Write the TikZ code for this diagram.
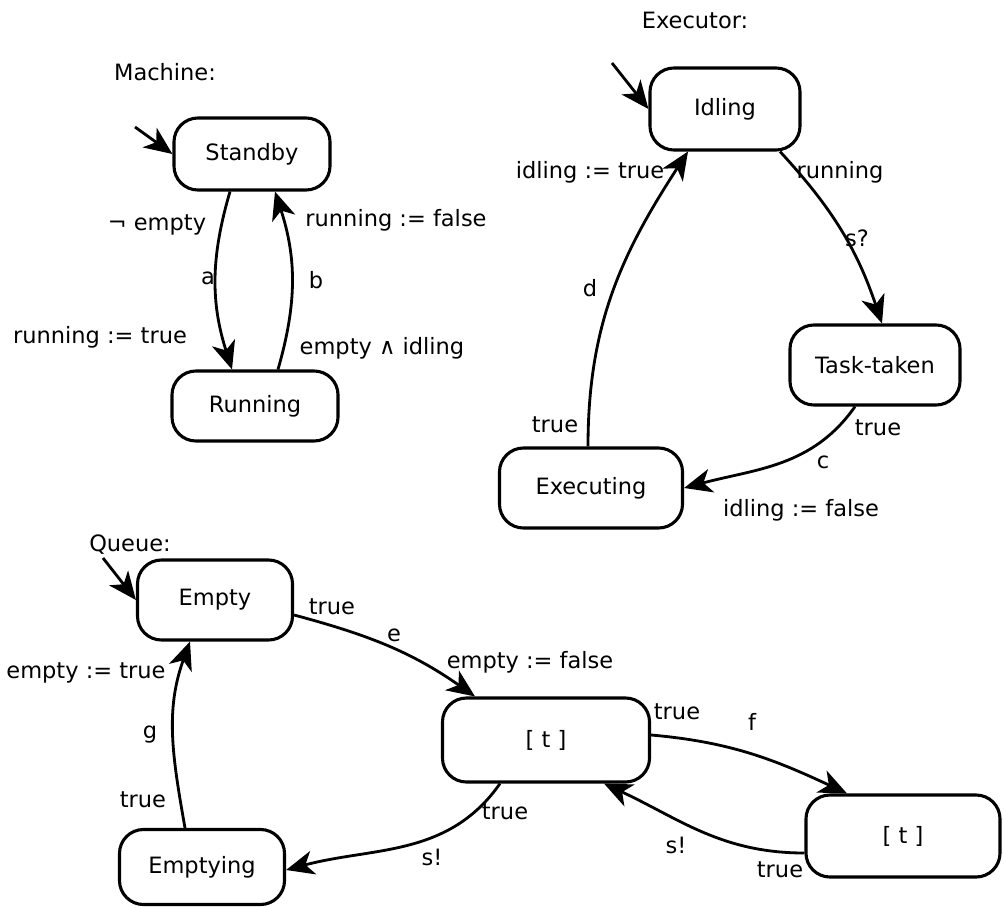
\documentclass[tikz,border=0pt]{standalone}
\usepackage{fontspec}
\setmainfont{DejaVu Sans}
\usetikzlibrary{arrows.meta,positioning,calc}
\tikzset{
  statebox/.style={draw=black,line width=2.2pt,rounded corners=0.6cm,fill=white,
    inner sep=0pt,align=center,font=\fontsize{16pt}{19pt}\selectfont},
  transarrow/.style={-{Stealth[length=7mm,width=6mm,inset=2mm]},
    line width=2pt,draw=black},
  initarrow/.style={transarrow},
  translabel/.style={inner sep=1pt,font=\fontsize{16pt}{19pt}\selectfont},
  titlelabel/.style={inner sep=1pt,font=\fontsize{16pt}{19pt}\selectfont},
}

\begin{document}
\begin{tikzpicture}[x=0.025cm,y=0.025cm]
    \useasboundingbox (0,0) rectangle (1004,-906);
    % Machine
    \node[titlelabel] (machinelbl) at (165,-72) {Machine:};
    \node[statebox,minimum width=3.9cm,minimum height=1.8cm] (standby) at (252,-154) {Standby};
    \node[statebox,minimum width=4.15cm,minimum height=1.75cm] (running) at (255,-406) {Running};
    \coordinate (standbyinit) at (135,-127);
    \draw[initarrow] (standbyinit) -- (standby.west);
    \draw[transarrow] ($(standby.south)+(-22,0)$) to[bend right=17] ($(running.north)+(-23,0)$);
    \draw[transarrow] ($(running.north)+(23,0)$) to[bend right=17] ($(standby.south)+(23,0)$);
    \node[translabel] (negempty) at (157,-225) {¬ empty};
    \node[translabel] (lbla) at (208,-278) {a};
    \node[translabel] (runtrue) at (100,-337) {running := true};
    \node[translabel] (lblb) at (316,-280) {b};
    \node[translabel] (runfalse) at (396,-220) {running := false};
    \node[translabel] (emptyidle) at (382,-348) {empty ∧ idling};
    % Executor
    \node[titlelabel] (executorlbl) at (695,-20) {Executor:};
    \node[statebox,minimum width=3.75cm,minimum height=2.05cm] (idling) at (725,-109) {Idling};
    \node[statebox,minimum width=4.25cm,minimum height=2.0cm] (tasktaken) at (875,-365) {Task-taken};
    \node[statebox,minimum width=4.575cm,minimum height=2.0cm] (executing) at (591,-488) {Executing};
    \coordinate (idlinginit) at (612,-63);
    \draw[initarrow] (idlinginit) -- (idling.west);
    \draw[transarrow] ($(idling.south)+(55,0)$) to[bend left=12] ($(tasktaken.north)+(7,0)$);
    \draw[transarrow] ($(tasktaken.south)+(-20,0)$) to[out=235,in=15] (executing.east);
    \draw[transarrow] ($(executing.north)+(-3,0)$) to[out=90,in=237] ($(idling.south)+(-37,0)$);
    \node[translabel] (idletrue) at (590,-172) {idling := true};
    \node[translabel] (lblrun) at (840,-172) {running};
    \node[translabel] (lbls) at (857,-238) {s?};
    \node[translabel] (lbld) at (590,-288) {d};
    \node[translabel] (exectrue) at (555,-425) {true};
    \node[translabel] (tasktrue) at (878,-428) {true};
    \node[translabel] (lblc) at (823,-462) {c};
    \node[translabel] (idlefalse) at (801,-510) {idling := false};
    % Queue
    \node[titlelabel] (queuelbl) at (130,-545) {Queue:};
    \node[statebox,minimum width=3.875cm,minimum height=2.0cm] (empty) at (215,-600) {Empty};
    \node[statebox,minimum width=5.175cm,minimum height=2.1cm] (tfirst) at (546,-740) {[ t ]};
    \node[statebox,minimum width=4.85cm,minimum height=2.05cm] (tsecond) at (903,-836) {[ t ]};
    \node[statebox,minimum width=4.125cm,minimum height=1.875cm] (emptying) at (202,-867) {Emptying};
    \coordinate (emptyinit) at (103,-558);
    \draw[initarrow] (emptyinit) -- (empty.west);
    \draw[transarrow] ($(empty.east)+(0,-15)$) to[out=-15,in=145] ($(tfirst.north)+(-71,0)$);
    \draw[transarrow] ($(tfirst.east)+(0,5)$) to[out=-5,in=155] ($(tsecond.north)+(-56,0)$);
    \draw[transarrow] ($(tsecond.west)+(0,-17)$) to[out=180,in=-25] ($(tfirst.south)+(58,0)$);
    \draw[transarrow] ($(tfirst.south)+(-46,0)$) to[out=235,in=15] ($(emptying.east)+(0,-3)$);
    \draw[transarrow] ($(emptying.north)+(-17,0)$) to[out=100,in=250] ($(empty.south)+(-25,0)$);
    \node[translabel] (emptrue) at (332,-607) {true};
    \node[translabel] (lble) at (394,-635) {e};
    \node[translabel] (empfalse) at (530,-662) {empty := false};
    \node[translabel] (emptysettrue) at (86,-673) {empty := true};
    \node[translabel] (lblg) at (150,-735) {g};
    \node[translabel] (emptyingtrue) at (143,-800) {true};
    \node[translabel] (tfirsttrue) at (677,-712) {true};
    \node[translabel] (lblf) at (752,-722) {f};
    \node[translabel] (tfirstdown) at (505,-812) {true};
    \node[translabel] (lblsout) at (432,-857) {s!};
    \node[translabel] (lblsback) at (676,-845) {s!};
    \node[translabel] (tsecondtrue) at (780,-870) {true};
\end{tikzpicture}
\end{document}
